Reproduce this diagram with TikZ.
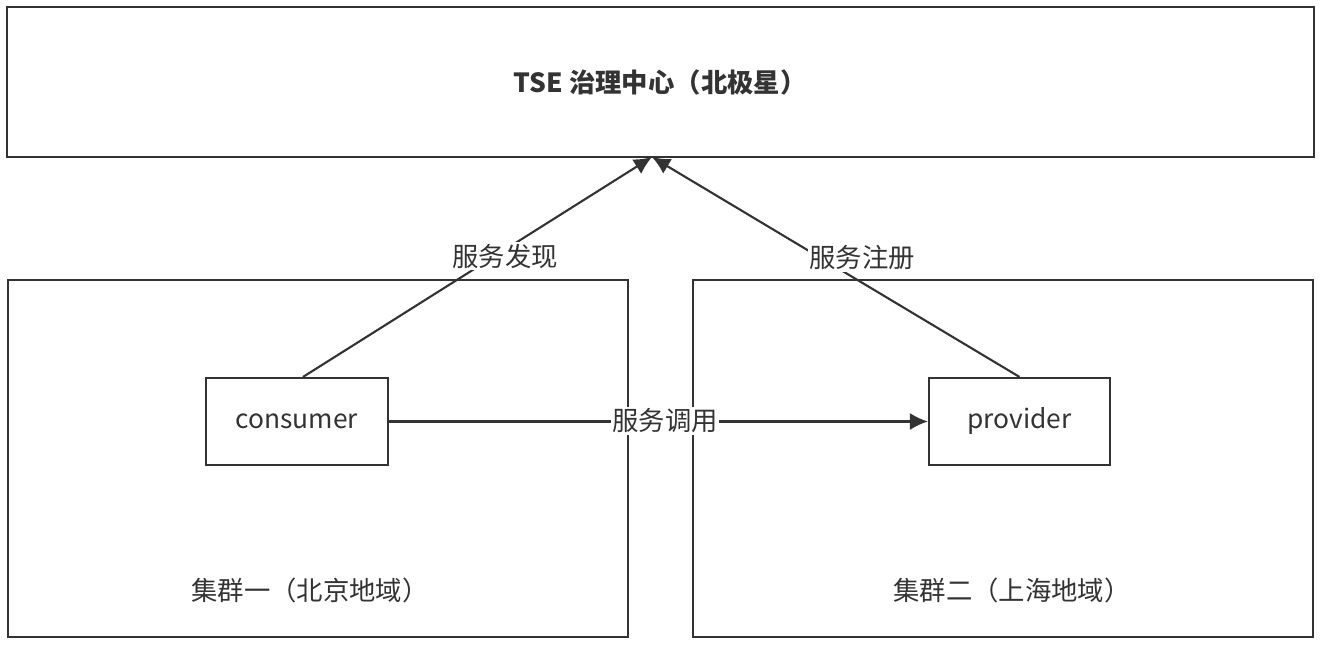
\documentclass[tikz,border=0pt]{standalone}
\usepackage{fontspec}
\setmainfont{Noto Sans CJK SC}
\usetikzlibrary{arrows.meta}
\definecolor{ln}{HTML}{333333}
\begin{document}
\begin{tikzpicture}[font=\fontsize{15pt}{17pt}\selectfont,line width=1.2pt,draw=ln]
\useasboundingbox (0,0) rectangle (26.48,12.92);
\draw[ln] (0.14,9.78) rectangle (26.28,12.78);
\draw[ln] (0.16,0.18) rectangle (12.56,7.32);
\draw[ln] (13.86,0.18) rectangle (26.26,7.32);
\node[text=ln] (tse) at (13.2,11.28) {\textbf{TSE 治理中心（北极星）}};
\node[text=ln] (c1) at (6.2,1.12) {集群一（北京地域）};
\node[text=ln] (c2) at (20.24,1.12) {集群二（上海地域）};
\node[draw=ln,minimum width=3.64cm,minimum height=1.74cm,text=ln] (cons) at (5.94,4.49) {consumer};
\node[draw=ln,minimum width=3.62cm,minimum height=1.74cm,text=ln] (prov) at (20.39,4.49) {provider};
\coordinate (hub) at (13.04,9.78);
\draw[ln,-{Latex[length=0.36cm,width=0.34cm]}] (cons.north) ++(0.12,0) -- (hub);
\draw[ln,-{Latex[length=0.36cm,width=0.34cm]}] (prov.north) -- (hub);
\draw[ln,-{Latex[length=0.36cm,width=0.34cm]}] (cons) -- (prov);
\node[fill=white,text=ln,inner sep=1pt] (find) at (10.1,7.8) {服务发现};
\node[fill=white,text=ln,inner sep=1pt] (reg) at (17.24,7.76) {服务注册};
\node[fill=white,text=ln,inner sep=1pt] (call) at (13.3,4.5) {服务调用};
\end{tikzpicture}
\end{document}
